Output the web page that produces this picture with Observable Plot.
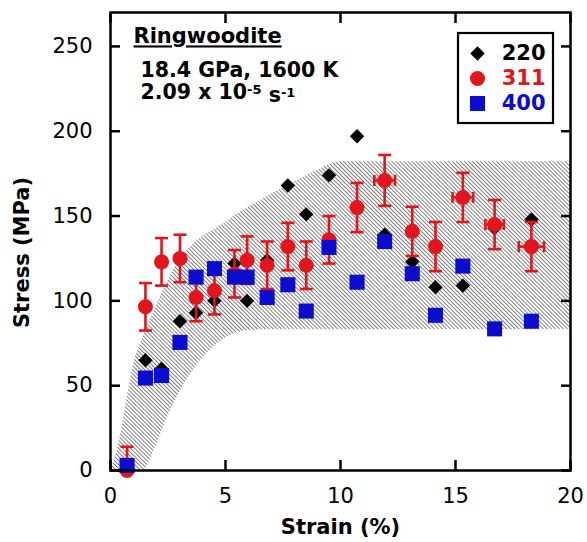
<!DOCTYPE html>
<html><head><meta charset="utf-8">
<script src="https://cdn.jsdelivr.net/npm/d3@7"></script>
<script src="https://cdn.jsdelivr.net/npm/@observablehq/plot@0.6"></script>
<style>body{margin:0;background:#fff;} svg{display:block}</style>
</head><body><div id="chart"></div>
<script>
// ---- data ----
const strain    = [0.72, 1.52, 2.22, 3.02, 3.72, 4.52, 5.39, 5.94, 6.81, 7.71, 8.51, 9.5, 10.72, 11.92, 13.12, 14.13, 15.32, 16.7, 18.3];
const stress220 = [2, 65, 60, 88, 93, 100, 122, 100, 124, 168, 151, 174, 197, 139, 123, 108, 109, 143, 148];
const stress311 = [0, 96.5, 123, 125, 102, 106, 116, 124, 121, 132, 121, 136, 155, 171, 141, 132, 161, 145, 132];
const err311    = [14, 14, 14, 14, 14, 14, 14, 14, 14, 14, 14, 14, 14.5, 15, 14.5, 14.5, 14.5, 14.5, 14.5];
const xerr311   = [0, 0, 0, 0, 0, 0, 0, 0, 0, 0, 0, 0, 0, 0.45, 0, 0, 0.45, 0.4, 0.55];
const stress400 = [3, 54.5, 56, 75.5, 114, 119, 114, 114, 102, 109.5, 94, 131.5, 111, 135, 116, 91.5, 120.5, 83.5, 88];

const bandX     = [0, 0.25, 0.5, 0.75, 1.0, 1.4, 2.0, 2.5, 3.0, 3.5, 4.0, 4.5, 5.0, 5.5, 6.0, 7.0, 8.0, 9.0, 10.0, 20.0];
const bandUpper = [0, 10, 25, 45, 62, 78, 97, 112, 124, 132, 138, 142, 146, 151, 155, 163, 170, 177, 182, 182];
const bandLower = [0, 0, 0, 0, 0, 0, 15, 32, 46, 57, 66, 73, 78, 81, 82.5, 83, 83, 83, 83, 83];

const xTicks = [0, 5, 10, 15, 20];
const yTicks = [0, 50, 100, 150, 200, 250];
const seriesNames  = ["220", "311", "400"];
const seriesColors = ["#000000", "#e2141c", "#0c0ccf"];
const annotLines = ["Ringwoodite", "18.4 GPa, 1600 K", "2.09 x 10⁻⁵ s⁻¹"];

// ---- tables ----
const rows220 = strain.map((x, i) => ({x, y: stress220[i]}));
const rows311 = strain.map((x, i) => ({x, y: stress311[i], e: err311[i], xe: xerr311[i]}));
const rows400 = strain.map((x, i) => ({x, y: stress400[i]}));
const band = bandX.map((x, i) => ({x, lo: bandLower[i], hi: bandUpper[i]}));
const rowsXerr = rows311.filter(d => d.xe > 0);

const capH = {draw(ctx, size) { const w = Math.sqrt(size / Math.PI); ctx.moveTo(-w, 0); ctx.lineTo(w, 0); }};
const capV = {draw(ctx, size) { const w = Math.sqrt(size / Math.PI); ctx.moveTo(0, -w); ctx.lineTo(0, w); }};

const red = seriesColors[1], blue = seriesColors[2];
const legendSymbols = ["diamond2", "circle", "square"];
const legendR = [6.5, 7.5, 8.5];
const legendMarks = [];
seriesNames.forEach((name, i) => {
  legendMarks.push(Plot.dot([name], {frameAnchor: "top-right", dx: -93, dy: 41 + i * 25, symbol: legendSymbols[i], r: legendR[i], fill: seriesColors[i], stroke: "none"}));
  legendMarks.push(Plot.text([name], {text: d => d, frameAnchor: "top-right", dx: -25, dy: 41 + i * 25, textAnchor: "end", lineAnchor: "middle", fontSize: 21, fontWeight: "bold", fill: seriesColors[i]}));
});

const chart = Plot.plot({
  width: 587, height: 542,
  marginLeft: 110, marginRight: 17, marginTop: 12, marginBottom: 72,
  style: {fontFamily: "'DejaVu Sans', sans-serif", fontSize: "21px", color: "black", background: "white"},
  x: {domain: [0, 20]},
  y: {domain: [0, 270]},
  marks: [
    Plot.areaY(band, {x: "x", y1: "lo", y2: "hi", fill: "url(#hatch)", curve: "monotone-x"}),
    Plot.dot(rows220, {x: "x", y: "y", symbol: "diamond2", r: 6.5, fill: "black", stroke: "none"}),
    Plot.ruleX(rows311, {x: "x", y1: d => Math.max(0, d.y - d.e), y2: d => d.y + d.e, stroke: red, strokeWidth: 2.6}),
    Plot.dot(rows311, {x: "x", y: d => d.y + d.e, symbol: capH, r: 6.5, fill: "none", stroke: red, strokeWidth: 2.6}),
    Plot.dot(rows311.filter(d => d.y - d.e > 0), {x: "x", y: d => d.y - d.e, symbol: capH, r: 6.5, fill: "none", stroke: red, strokeWidth: 2.6}),
    Plot.ruleY(rowsXerr, {y: "y", x1: d => d.x - d.xe, x2: d => d.x + d.xe, stroke: red, strokeWidth: 2.6}),
    Plot.dot(rowsXerr, {x: d => d.x - d.xe, y: "y", symbol: capV, r: 5.5, fill: "none", stroke: red, strokeWidth: 2.6}),
    Plot.dot(rowsXerr, {x: d => d.x + d.xe, y: "y", symbol: capV, r: 5.5, fill: "none", stroke: red, strokeWidth: 2.6}),
    Plot.dot(rows311, {x: "x", y: "y", r: 7.5, fill: red, stroke: "none"}),
    Plot.dot(rows400, {x: "x", y: "y", symbol: "square", r: 8.5, fill: blue, stroke: "none"}),
    Plot.frame({stroke: "black", strokeWidth: 2.5}),
    Plot.axisX(xTicks, {anchor: "bottom", tickSize: -10, tickPadding: 28, strokeWidth: 2.5, fontSize: 21, label: null}),
    Plot.axisX(xTicks, {anchor: "top", tickSize: -10, strokeWidth: 2.5, tickFormat: () => "", label: null}),
    Plot.axisY(yTicks, {anchor: "left", tickSize: -10, tickPadding: 28, strokeWidth: 2.5, fontSize: 21, label: null}),
    Plot.axisY(yTicks, {anchor: "right", tickSize: -10, strokeWidth: 2.5, tickFormat: () => "", label: null}),
    Plot.text(["Strain (%)"], {text: d => d, frameAnchor: "bottom", dy: 57, lineAnchor: "middle", fontSize: 21, fontWeight: "bold"}),
    Plot.text(["Stress (MPa)"], {text: d => d, frameAnchor: "left", dx: -88, dy: 11, rotate: -90, textAnchor: "middle", lineAnchor: "middle", fontSize: 21, fontWeight: "bold"}),
    Plot.text([annotLines[0]], {text: d => d, frameAnchor: "top-left", dx: 23, dy: 16, lineAnchor: "top", textAnchor: "start", fontSize: 21, fontWeight: "bold"}),
    Plot.text([annotLines[1]], {text: d => d, frameAnchor: "top-left", dx: 30, dy: 50, lineAnchor: "top", textAnchor: "start", fontSize: 20.5, fontWeight: "bold"}),
    Plot.text([annotLines[2]], {text: d => d, frameAnchor: "top-left", dx: 30, dy: 72, lineAnchor: "top", textAnchor: "start", fontSize: 20.5, fontWeight: "bold"}),
    ...legendMarks
  ]
});

const svg = d3.select(chart);
const defs = svg.insert("defs", ":first-child");
const pat = defs.append("pattern").attr("id", "hatch").attr("patternUnits", "userSpaceOnUse")
  .attr("width", 2.85).attr("height", 8).attr("patternTransform", "rotate(-45)");
pat.append("rect").attr("width", 2.85).attr("height", 8).attr("fill", "white");
pat.append("line").attr("x1", 0.5).attr("y1", 0).attr("x2", 0.5).attr("y2", 8).attr("stroke", "#666").attr("stroke-width", 0.85);

svg.selectAll("text").filter(function() { return this.textContent === annotLines[0]; })
  .attr("text-decoration", "underline");
// superscripts for the strain-rate line
svg.selectAll("text").filter(function() { return this.textContent === annotLines[2]; }).each(function() {
  const t = d3.select(this);
  t.text(null);
  t.append("tspan").text("2.09 x 10");
  t.append("tspan").attr("dy", "-0.38em").attr("font-size", 13).text("-5");
  t.append("tspan").attr("dy", "0.38em").text(" s");
  t.append("tspan").attr("dy", "-0.38em").attr("font-size", 13).text("-1");
});
// legend box
svg.append("rect").attr("x", 458).attr("y", 33).attr("width", 95).attr("height", 90)
  .attr("fill", "none").attr("stroke", "black").attr("stroke-width", 2.2);

document.getElementById("chart").appendChild(chart);
</script>
</body></html>
